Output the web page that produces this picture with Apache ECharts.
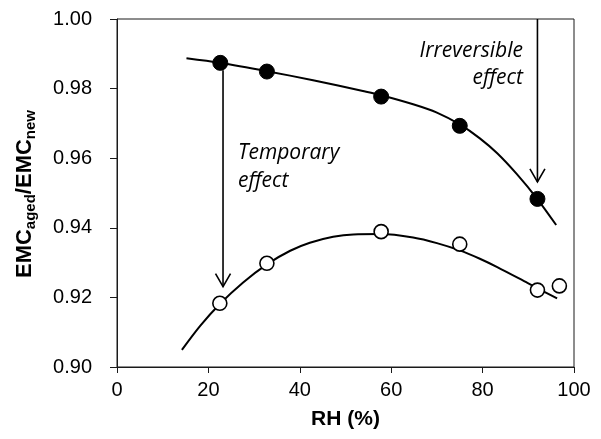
<!DOCTYPE html>
<html><head><meta charset="utf-8">
<script src="https://cdn.jsdelivr.net/npm/echarts@6/dist/echarts.min.js"></script>
<style>html,body{margin:0;padding:0;background:#fff}#c{width:601px;height:439px}</style>
</head><body><div id="c"></div>
<script>
// measured points: aged (filled) and new (open)
const agedRH = [22.6, 32.8, 57.8, 75.0, 92.0];
const agedRatio = [0.9874, 0.9849, 0.9777, 0.9693, 0.9483];
const newRH = [22.5, 32.8, 57.8, 75.0, 92.0, 96.8];
const newRatio = [0.9183, 0.9298, 0.9389, 0.9353, 0.9221, 0.9233];
// trend lines
const upperTrendRH = [15.2, 22.5, 32.8, 42.9, 53.8, 57.8, 64.8, 70.0, 75.0, 79.4, 83.2, 87.5, 91.9, 96.1];
const upperTrendRatio = [0.9887, 0.9874, 0.9850, 0.9824, 0.9793, 0.9781, 0.9755, 0.9731, 0.9697, 0.9657, 0.9614, 0.9554, 0.9484, 0.9408];
const lowerTrendRH = [14.2, 18.2, 22.5, 27.6, 32.8, 37.9, 42.2, 47.3, 51.7, 57.8, 64.8, 70.0, 75.0, 79.4, 83.2, 89.9, 96.3];
const lowerTrendRatio = [0.9049, 0.9118, 0.9181, 0.9243, 0.9295, 0.9334, 0.9357, 0.9374, 0.9381, 0.9382, 0.9372, 0.9356, 0.9335, 0.9311, 0.9287, 0.9241, 0.9197];
// annotation arrows
const arrowRH = [23.2, 92.0];
const arrowFrom = [0.9853, 1.0];
const arrowTo = [0.9231, 0.9532];
const xMin = 0, xMax = 100, xStep = 20;
const yMin = 0.90, yMax = 1.00, yStep = 0.02;

const zip = (a, b) => a.map((v, i) => [v, b[i]]);
const FONT = '"Liberation Sans", Arial, sans-serif';
const ITAL = 'italic 21px "Open Sans"';
const chart = echarts.init(document.getElementById('c'));
chart.setOption({
  animation: false,
  backgroundColor: '#fff',
  grid: { left: 117, right: 27, top: 19, bottom: 72, show: true, borderColor: '#1a1a1a', borderWidth: 1 },
  xAxis: {
    type: 'value', min: xMin, max: xMax, interval: xStep,
    axisLine: { lineStyle: { color: '#1a1a1a', width: 1 } },
    axisTick: { show: true, inside: false, length: 6, lineStyle: { color: '#1a1a1a' } },
    axisLabel: { color: '#000', fontSize: 20, fontFamily: FONT, margin: 13 },
    splitLine: { show: false },
    name: 'RH (%)', nameLocation: 'middle', nameGap: 42,
    nameTextStyle: { color: '#000', fontSize: 21, fontWeight: 'bold', fontFamily: FONT }
  },
  yAxis: {
    type: 'value', min: yMin, max: yMax, interval: yStep,
    axisLine: { show: true, lineStyle: { color: '#1a1a1a', width: 1 } },
    axisTick: { show: true, inside: false, length: 7, lineStyle: { color: '#1a1a1a' } },
    axisLabel: { color: '#000', fontSize: 20, fontFamily: FONT, margin: 25, formatter: v => v.toFixed(2) },
    splitLine: { show: false }
  },
  graphic: [
    { type: 'text', x: 25, y: 194, rotation: Math.PI / 2,
      style: { text: '{m|EMC}{s|aged}{m|/EMC}{s|new}', align: 'center', verticalAlign: 'middle',
        rich: {
          m: { fontSize: 22, fontWeight: 'bold', fontFamily: FONT, fill: '#000', lineHeight: 26 },
          s: { fontSize: 15, fontWeight: 'bold', fontFamily: FONT, fill: '#000', lineHeight: 15, verticalAlign: 'bottom' }
        } } },
    { type: 'text', x: 238, y: 153, style: { text: 'Temporary', font: ITAL, fill: '#000', align: 'left', verticalAlign: 'middle' } },
    { type: 'text', x: 238, y: 181, style: { text: 'effect', font: ITAL, fill: '#000', align: 'left', verticalAlign: 'middle' } },
    { type: 'text', x: 523, y: 51, style: { text: 'Irreversible', font: ITAL, fill: '#000', align: 'right', verticalAlign: 'middle' } },
    { type: 'text', x: 523, y: 78, style: { text: 'effect', font: ITAL, fill: '#000', align: 'right', verticalAlign: 'middle' } }
  ],
  series: [
    { type: 'line', data: zip(upperTrendRH, upperTrendRatio), smooth: 0.3, showSymbol: false, symbol: 'none',
      lineStyle: { color: '#000', width: 2 }, z: 2 },
    { type: 'line', data: zip(lowerTrendRH, lowerTrendRatio), smooth: 0.3, showSymbol: false, symbol: 'none',
      lineStyle: { color: '#000', width: 2 }, z: 2 },
    { type: 'custom', z: 3,
      data: arrowRH.map((x, i) => [x, arrowFrom[i], arrowTo[i]]),
      renderItem: (params, api) => {
        const p0 = api.coord([api.value(0), api.value(1)]);
        const p1 = api.coord([api.value(0), api.value(2)]);
        const st = { stroke: '#000', lineWidth: 1.6, fill: 'none' };
        return { type: 'group', children: [
          { type: 'line', shape: { x1: p0[0], y1: p0[1], x2: p1[0], y2: p1[1] }, style: st },
          { type: 'polyline', shape: { points: [[p1[0] - 7.5, p1[1] - 13], [p1[0], p1[1]], [p1[0] + 7.5, p1[1] - 13]] }, style: st }
        ] };
      } },
    { type: 'scatter', data: zip(agedRH, agedRatio), symbol: 'circle', symbolSize: 15,
      itemStyle: { color: '#000', borderColor: '#000', borderWidth: 1, opacity: 1 }, z: 5 },
    { type: 'scatter', data: zip(newRH, newRatio), symbol: 'circle', symbolSize: 14,
      itemStyle: { color: '#fff', borderColor: '#000', borderWidth: 1.6, opacity: 1 }, z: 5 }
  ]
});
</script></body></html>
